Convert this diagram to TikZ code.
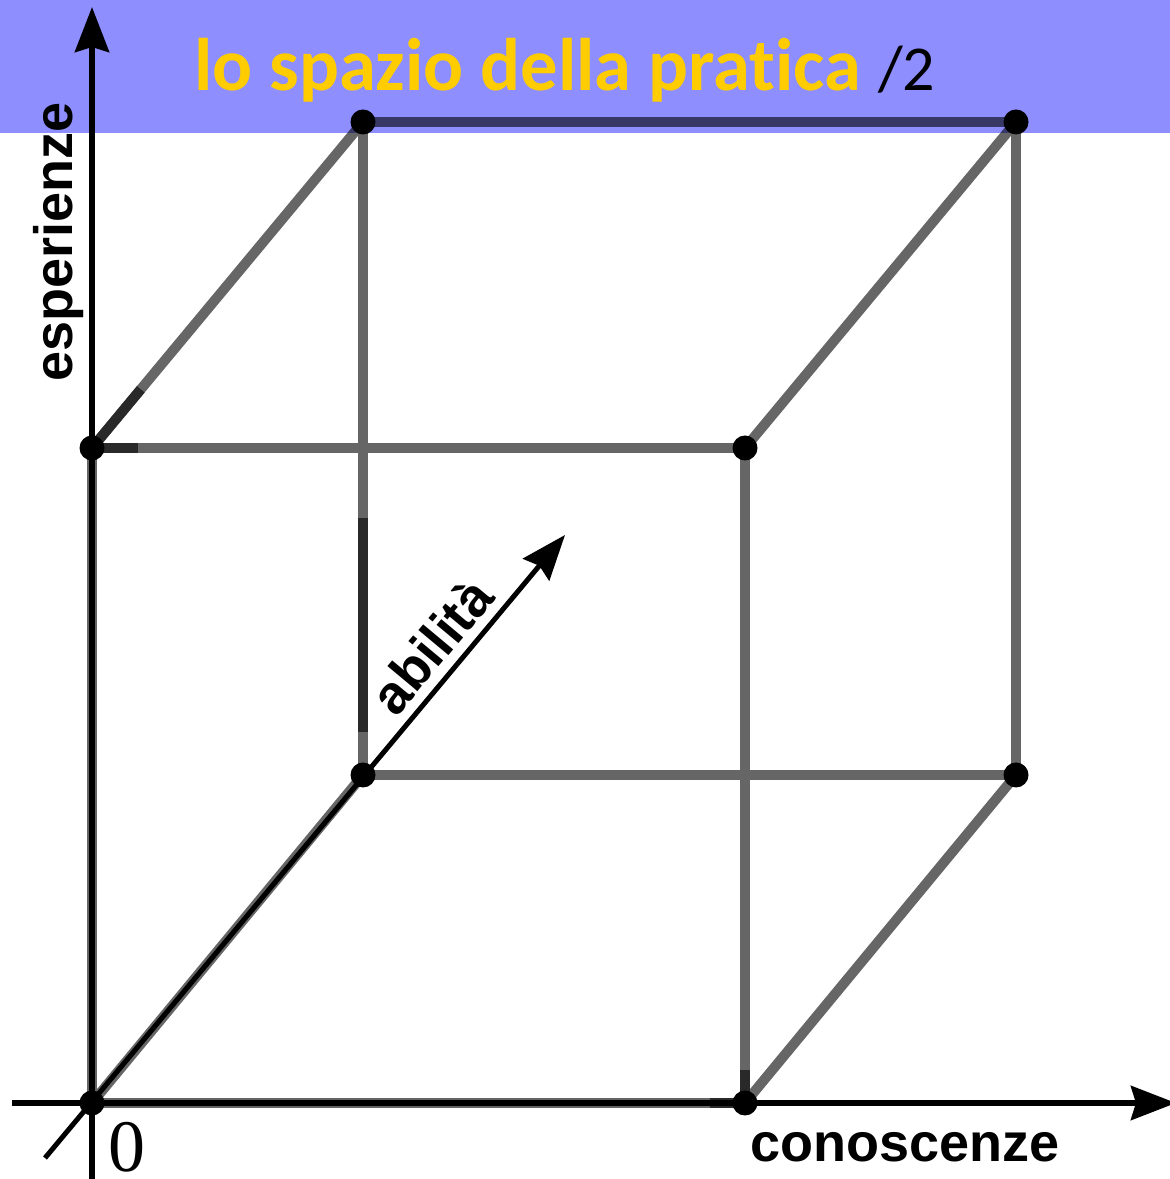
\documentclass[tikz,border=0pt]{standalone}
\usepackage{fontspec}
\setmainfont{Liberation Sans}
\newfontfamily\titlefont[Ligatures={NoCommon}]{Carlito}
\newfontfamily\zerofont{Liberation Serif}
\usepackage{xcolor}
\usetikzlibrary{arrows.meta, calc}

\definecolor{bandblue}{RGB}{142,142,255}
\definecolor{titleyellow}{RGB}{255,204,0}

\begin{document}
\begin{tikzpicture}[x=1pt, y=1pt,
    edge/.style={draw=black!60, line width=10pt},
    darkedge/.style={draw=black!84, line width=10pt},
    axis/.style={draw=black, line width=6pt, -{Stealth[length=45pt, width=34pt, inset=5pt]}},
    dot/.style={circle, fill=black, inner sep=0pt, minimum size=25pt},
    lbl/.style={font=\bfseries\fontsize{54}{60}\selectfont, inner sep=0pt}
]
    \useasboundingbox (0,0) rectangle (1170,1179);

    % cube corners, front face then back face
    \coordinate (O) at (92,76);
    \coordinate (A) at (745,76);
    \coordinate (B) at (745,731);
    \coordinate (C) at (92,731);
    \coordinate (D) at (363,404);
    \coordinate (E) at (1016,404);
    \coordinate (F) at (1016,1057);
    \coordinate (G) at (363,1057);
    % axis ends
    \coordinate (xstart) at (12,76);
    \coordinate (xend) at (1176,76);
    \coordinate (ystart) at (92,0);
    \coordinate (yend) at (92,1172);
    \coordinate (zstart) at (45,21);
    \coordinate (zend) at (565,644);

    \draw[edge] (O) -- (A);
    \draw[edge] (O) -- (C);
    \draw[edge] (O) -- (D);
    \draw[edge] (C) -- (B);
    \draw[edge] (A) -- (B);
    \draw[edge] (D) -- (E);
    \draw[edge] (E) -- (F);
    \draw[edge] (G) -- (F);
    \draw[edge] (D) -- (G);
    \draw[edge] (C) -- (G);
    \draw[edge] (B) -- (F);
    \draw[edge] (A) -- (E);

    % darker strokes of the sketch
    \draw[darkedge] (C) -- ($(C)+(46,0)$);
    \draw[darkedge] (C) -- ($(C)!0.18!(G)$);
    \draw[darkedge] ($(D)+(0,43)$) -- ($(D)+(0,257)$);
    \draw[darkedge] (A) -- ($(A)+(0,33)$);
    \draw[darkedge] ($(A)+(-35,0)$) -- (A);

    \draw[axis] (xstart) -- (xend);
    \draw[axis] (ystart) -- (yend);
    \draw[axis, line width=5pt] (zstart) -- (zend)
        node[pos=0.79, sloped, anchor=south, lbl, inner sep=9pt] (zlabel) {abilità};

    \node[dot] (dO) at (O) {};
    \node[dot] (dA) at (A) {};
    \node[dot] (dB) at (B) {};
    \node[dot] (dC) at (C) {};
    \node[dot] (dD) at (D) {};
    \node[dot] (dE) at (E) {};
    \node[dot] (dF) at (F) {};
    \node[dot] (dG) at (G) {};

    \node[lbl, anchor=base west] (xlabel) at (750,17) {conoscenze};
    \node[lbl, rotate=90, anchor=base west] (ylabel) at (72,797) {esperienze};
    \node[font=\zerofont\fontsize{74}{80}\selectfont, anchor=base west, inner sep=0pt] (zero) at (108,8) {0};

    % title band
    \fill[bandblue, blend mode=multiply] (0,1046) rectangle (1170,1179);
    \node[font=\titlefont\bfseries\fontsize{74.5}{80}\selectfont, text=titleyellow, anchor=base west, inner sep=0pt] (title) at (194,1088) {lo spazio della pratica};
    \node[font=\titlefont\fontsize{64}{70}\selectfont, anchor=base west, inner sep=0pt] (part) at (878,1088) {/2};
\end{tikzpicture}
\end{document}
